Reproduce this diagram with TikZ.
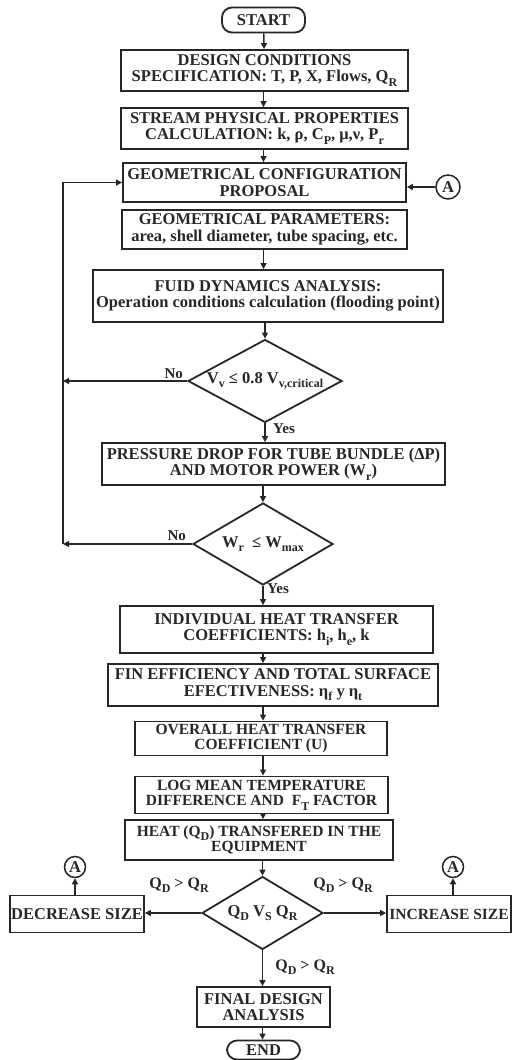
\documentclass[tikz,border=0pt]{standalone}
\usepackage{fontspec}
\setmainfont{Liberation Serif}
\usepackage{tikz}
\usetikzlibrary{calc, positioning, shapes, arrows.meta}
\newcommand{\idx}[1]{\raisebox{-0.6ex}{\fontsize{12}{12}\selectfont #1}}
\tikzset{
    proc/.style ={rectangle, draw, line width=1.8pt, inner sep=0pt, align=center}, % process boxes, sizes given per node
    tight/.style ={font=\fontsize{15.5}{15.5}\selectfont\bfseries}, % for the low boxes
    decision/.style ={diamond, draw, line width=1.8pt, inner sep=0pt}, % text goes in as a centre label
    term/.style ={rectangle, rounded corners=10pt, draw, line width=1.8pt, inner sep=0pt},
    conn/.style ={circle, draw, line width=1.5pt, inner sep=0pt, minimum size=21pt},
    lbl/.style ={inner sep=0pt, font=\fontsize{15}{15}\selectfont\bfseries},
    flow/.style ={-{Triangle[length=6pt,width=6pt]}, line width=1.4pt}
}

\begin{document}
\begin{tikzpicture}[x=1pt, y=-1pt, black!85,
        every node/.style={font=\fontsize{16.5}{16.5}\selectfont\bfseries, text=black!85}]
    \useasboundingbox (0,0) rectangle (513,1060);
    % main column
    \node[term, minimum width=83pt, minimum height=25pt] (start) at (263.5,20) {START};
    \node[proc, minimum width=287pt, minimum height=41pt] (cond) at (264.5,70.5)
        {DESIGN CONDITIONS\\SPECIFICATION: T, P, X, Flows, Q\idx{R}};
    \node[proc, minimum width=287pt, minimum height=41pt] (props) at (264.5,128.5)
        {STREAM PHYSICAL PROPERTIES\\CALCULATION: k, ρ, C\idx{P}, μ,ν, P\idx{r}};
    \node[proc, minimum width=283pt, minimum height=39pt] (config) at (264.5,182.5)
        {GEOMETRICAL CONFIGURATION\\PROPOSAL};
    \node[proc, minimum width=285pt, minimum height=39pt] (geom) at (264.5,229.5)
        {GEOMETRICAL PARAMETERS:\\area, shell diameter, tube spacing, etc.};
    \node[proc, minimum width=350pt, minimum height=52pt] (fluid) at (268,296)
        {FUID DYNAMICS ANALYSIS:\\Operation conditions calculation (flooding point)};
    \node[decision, minimum width=154pt, minimum height=83pt,
        label={center:V\idx{v} ≤ 0.8 V\idx{v,critical}}] (flood) at (265,381) {};
    \node[proc, minimum width=343pt, minimum height=42pt] (drop) at (273.5,464)
        {PRESSURE DROP FOR TUBE BUNDLE (ΔP)\\AND MOTOR POWER (W\idx{r})};
    \node[decision, minimum width=140pt, minimum height=82pt,
        label={center:W\idx{r}\ \ ≤ W\idx{max}}] (power) at (263,544) {};
    \node[proc, minimum width=313pt, minimum height=47pt] (coef) at (276.5,629.5)
        {INDIVIDUAL HEAT TRANSFER\\COEFFICIENTS: h\idx{i}, h\idx{e}, k};
    \node[proc, minimum width=330pt, minimum height=42pt] (fin) at (273,685)
        {FIN EFFICIENCY AND TOTAL SURFACE\\EFECTIVENESS: η\idx{f} y η\idx{t}};
    \node[proc, tight, minimum width=252pt, minimum height=34pt] (overall) at (261,738.5)
        {OVERALL HEAT TRANSFER\\COEFFICIENT (U)};
    \node[proc, tight, minimum width=253pt, minimum height=37pt] (lmtd) at (261.5,795)
        {LOG MEAN TEMPERATURE\\DIFFERENCE AND\ \ F\idx{T} FACTOR};
    \node[proc, tight, minimum width=268pt, minimum height=40pt] (heat) at (259,840)
        {HEAT (Q\idx{D}) TRANSFERED IN THE\\EQUIPMENT};
    \node[decision, minimum width=121pt, minimum height=73pt,
        label={center:Q\idx{D} V\idx{S} Q\idx{R}}] (comp) at (262.5,913) {};
    \node[proc, minimum width=134pt, minimum height=37pt] (dec) at (77,914) {DECREASE SIZE};
    \node[proc, minimum width=124pt, minimum height=37pt,
        font=\fontsize{15.5}{15.5}\selectfont\bfseries] (inc) at (449,914) {INCREASE SIZE};
    \node[proc, minimum width=133pt, minimum height=40pt] (final) at (263.5,1007)
        {FINAL DESIGN\\ANALYSIS};
    \node[term, minimum width=73pt, minimum height=19pt] (end) at (263.5,1050) {END};
    % connectors A
    \node[conn, minimum size=24pt] (connA) at (448,187) {A};
    \node[conn] (connL) at (75,867) {A};
    \node[conn] (connR) at (453,867) {A};
    \coordinate (back) at (63,0);

    % arrows down the column
    \draw[flow] (start) -- (cond);
    \draw[flow] (start.south |- cond.south) -- (start.south |- props.north);
    \draw[flow] (start.south |- props.south) -- (start.south |- config.north);
    \draw[flow] (start.south |- geom.south) -- (start.south |- fluid.north);
    \draw[flow] (flood.north |- fluid.south) -- (flood.north);
    \draw[flow] (flood.south) -- (flood.south |- drop.north);
    \draw[flow] (power.north |- drop.south) -- (power.north);
    \draw[flow] (power.south) -- (power.south |- coef.north);
    \draw[flow] (power.south |- coef.south) -- (power.south |- fin.north);
    \draw[flow] (power.south |- fin.south) -- (power.south |- overall.north);
    \draw[flow] (power.south |- overall.south) -- (power.south |- lmtd.north);
    \draw[flow] (power.south |- lmtd.south) -- (power.south |- heat.north);
    \draw[flow] (comp.north |- heat.south) -- (comp.north);
    \draw[flow] (comp.south) -- (comp.south |- final.north);
    \draw[flow] (comp.south |- final.south) -- (comp.south |- end.north);
    % loop back to the configuration
    \draw[flow] (flood.west) -- (flood.west -| back);
    \draw[flow] (power.west) -- (power.west -| back);
    \draw[flow] (power.west -| back) -- (back |- config.west) -- (config.west);
    \draw[flow] (connA) -- (config.east |- connA);
    % size changes
    \draw[flow] (comp.west) -- (dec.east |- comp.west);
    \draw[flow] (comp.east) -- (inc.west |- comp.east);
    \draw[flow] (dec.north -| connL) -- (connL);
    \draw[flow] (inc.north -| connR) -- (connR);

    % labels on the branches
    \node[lbl, above left=2pt and 4pt of flood.west] {No};
    \node[lbl, below right=0pt and 8pt of flood.south] {Yes};
    \node[lbl, above left=3pt and 6pt of power.west] {No};
    \node[lbl, below right=-2pt and 4pt of power.south] {Yes};
    \node[lbl, font=\fontsize{16}{16}\selectfont\bfseries] at (179,885) {Q\idx{D} > Q\idx{R}};
    \node[lbl, font=\fontsize{16}{16}\selectfont\bfseries] at (343,885) {Q\idx{D} > Q\idx{R}};
    \node[lbl, font=\fontsize{16}{16}\selectfont\bfseries] at (305,967) {Q\idx{D} > Q\idx{R}};
\end{tikzpicture}
\end{document}
